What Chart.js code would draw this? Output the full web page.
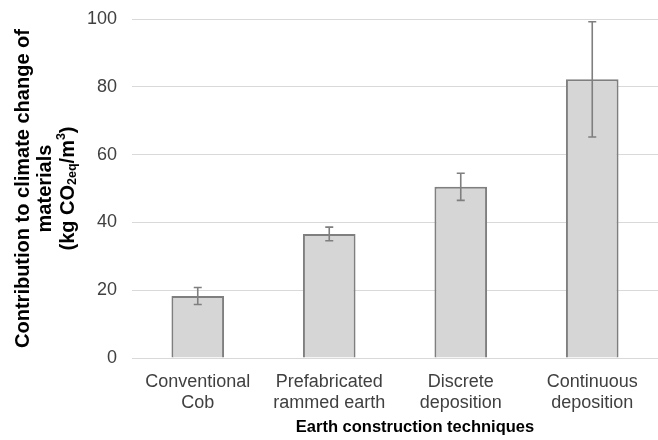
<!DOCTYPE html>
<html>
<head>
<meta charset="utf-8">
<script src="https://cdn.jsdelivr.net/npm/chart.js@4"></script>
<style>
  html, body { margin: 0; padding: 0; background: #fff; }
</style>
</head>
<body>
<canvas id="chart" width="658" height="440"></canvas>
<script>
var categories = [
  ["Conventional", "Cob"],
  ["Prefabricated", "rammed earth"],
  ["Discrete", "deposition"],
  ["Continuous", "deposition"]
];
var values = [18.3, 36.6, 50.5, 82.2];
var errors = [2.5, 2.0, 4.0, 17.0];
var yTicks = [0, 20, 40, 60, 80, 100];

var FONT = "'Liberation Sans', Arial, sans-serif";

// error bars, from the data through the y scale
var errorBars = {
  id: 'errorBars',
  afterDatasetsDraw: function (chart) {
    var ctx = chart.ctx,
      y = chart.scales.y,
      meta = chart.getDatasetMeta(0);
    ctx.save();
    ctx.strokeStyle = '#7f7f7f';
    ctx.lineWidth = 1.6;
    meta.data.forEach(function (bar, i) {
      var hi = y.getPixelForValue(values[i] + errors[i]),
        lo = y.getPixelForValue(values[i] - errors[i]),
        cap = 4;
      ctx.beginPath();
      ctx.moveTo(bar.x, hi);
      ctx.lineTo(bar.x, lo);
      ctx.moveTo(bar.x - cap, hi);
      ctx.lineTo(bar.x + cap, hi);
      ctx.moveTo(bar.x - cap, lo);
      ctx.lineTo(bar.x + cap, lo);
      ctx.stroke();
    });
    ctx.restore();
  }
};

// axis titles, with sub/superscripts on the unit line
var axisTitles = {
  id: 'axisTitles',
  afterDraw: function (chart) {
    var ctx = chart.ctx,
      area = chart.chartArea,
      cy = (area.top + area.bottom) / 2;
    ctx.save();
    ctx.fillStyle = '#000';
    ctx.textBaseline = 'middle';

    // x title
    ctx.font = 'bold 16.5px ' + FONT;
    ctx.textAlign = 'center';
    ctx.fillText('Earth construction techniques', (area.left + area.right) / 2 + 20, 427);

    // y title
    ctx.translate(0, cy);
    ctx.rotate(-Math.PI / 2);
    ctx.font = 'bold 20px ' + FONT;
    ctx.fillText('Contribution to climate change of', 0, 23);
    ctx.fillText('materials', 0, 45);

    var parts = [
      { t: '(kg CO', size: 20, dy: 0 },
      { t: '2eq', size: 12.5, dy: 5 },
      { t: '/m', size: 20, dy: 0 },
      { t: '3', size: 12.5, dy: -6 },
      { t: ')', size: 20, dy: 0 }
    ];
    var total = 0;
    parts.forEach(function (p) {
      ctx.font = 'bold ' + p.size + 'px ' + FONT;
      p.w = ctx.measureText(p.t).width;
      total += p.w;
    });
    var x = -total / 2;
    ctx.textAlign = 'left';
    parts.forEach(function (p) {
      ctx.font = 'bold ' + p.size + 'px ' + FONT;
      ctx.fillText(p.t, x, 68 + p.dy);
      x += p.w;
    });
    ctx.restore();
  }
};

new Chart(document.getElementById('chart'), {
  type: 'bar',
  data: {
    labels: categories,
    datasets: [
      {
        data: values,
        backgroundColor: '#d6d6d6',
        borderColor: '#7f7f7f',
        borderWidth: { top: 2, left: 2, right: 2, bottom: 0 },
        borderSkipped: false,
        barPercentage: 0.4,
        categoryPercentage: 1.0
      }
    ]
  },
  options: {
    responsive: false,
    animation: false,
    devicePixelRatio: 1,
    layout: { padding: { top: 19, left: 0, right: 0, bottom: 0 } },
    plugins: {
      legend: { display: false },
      title: { display: false },
      tooltip: { enabled: false }
    },
    scales: {
      x: {
        grid: { display: false, drawTicks: false },
        border: { display: true, color: '#d9d9d9', width: 1 },
        ticks: {
          color: '#404040',
          font: { family: FONT, size: 18, lineHeight: 1.2 },
          padding: 13,
          maxRotation: 0,
          autoSkip: false
        },
        afterFit: function (scale) { scale.height = 82; }
      },
      y: {
        min: 0,
        max: 100,
        afterBuildTicks: function (scale) {
          scale.ticks = yTicks.map(function (v) { return { value: v }; });
        },
        grid: { color: '#d9d9d9', lineWidth: 1, drawTicks: false },
        border: { display: false },
        ticks: {
          color: '#404040',
          font: { family: FONT, size: 18 },
          padding: 15
        },
        afterFit: function (scale) {
          scale.width = 132;
          scale.paddingTop = 0;
          scale.paddingBottom = 0;
        }
      }
    }
  },
  plugins: [errorBars, axisTitles]
});
</script>
</body>
</html>
